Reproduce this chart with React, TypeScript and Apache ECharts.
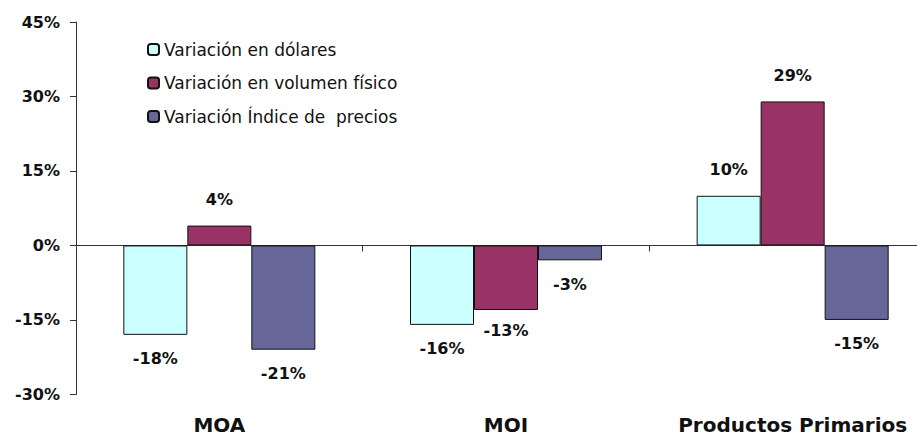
import React, { useEffect, useRef } from "react";
import * as echarts from "echarts";

const categories = ["MOA", "MOI", "Productos Primarios"];
const seriesNames = [
  "Variación en dólares",
  "Variación en volumen físico",
  "Variación Índice de  precios",
];
const dolares = [-18, -16, 10];
const volumen = [4, -13, 29];
const precios = [-21, -3, -15];
const yMin = -30;
const yMax = 45;
const yStep = 15;

const colors = ["#CCFFFF", "#993366", "#666699"];
const FONT = "DejaVu Sans";

export default function App() {
  const ref = useRef<HTMLDivElement>(null);
  useEffect(() => {
    if (!ref.current) return;
    const chart = echarts.init(ref.current, null, { renderer: "svg" });
    const values = [dolares, volumen, precios];
    const labelCommon = {
      show: true,
      fontFamily: FONT,
      fontSize: 16,
      fontWeight: "bold" as const,
      color: "#111",
      formatter: "{c}%",
    };
    chart.setOption({
      animation: false,
      backgroundColor: "#fff",
      grid: { left: 76, top: 22, right: 0, bottom: 41.6, containLabel: false },
      legend: {
        orient: "vertical",
        left: 147,
        top: 41,
        padding: 0,
        itemWidth: 11,
        itemHeight: 11,
        itemGap: 16.5,
        selectedMode: false,
        textStyle: { fontFamily: FONT, fontSize: 17, color: "#111", lineHeight: 17 },
        data: seriesNames,
      },
      xAxis: [
        {
          type: "category",
          data: categories,
          axisLine: { onZero: true, lineStyle: { color: "#333", width: 1 } },
          axisTick: { show: true, length: 6, lineStyle: { color: "#333" } },
          axisLabel: { show: false },
          splitLine: { show: false },
        },
        {
          type: "category",
          data: categories,
          position: "bottom",
          axisLine: { show: false, onZero: false },
          axisTick: { show: false },
          axisLabel: {
            show: true,
            interval: 0,
            margin: 21,
            lineHeight: 20,
            fontFamily: FONT,
            fontSize: 20,
            fontWeight: "bold",
            color: "#111",
          },
          splitLine: { show: false },
        },
      ],
      yAxis: {
        type: "value",
        min: yMin,
        max: yMax,
        interval: yStep,
        axisLine: { show: true, lineStyle: { color: "#333", width: 1 } },
        axisTick: { show: true, length: 6, lineStyle: { color: "#333" } },
        splitLine: { show: false },
        axisLabel: {
          margin: 16,
          fontFamily: FONT,
          fontSize: 16,
          fontWeight: "bold",
          color: "#111",
          formatter: "{value}%",
        },
      },
      series: seriesNames.map((name, i) => ({
        name,
        type: "bar",
        xAxisIndex: 0,
        barWidth: 64,
        barGap: "0%",
        itemStyle: { color: colors[i], borderColor: "#111", borderWidth: 1 },
        data: values[i].map((v) => ({
          value: v,
          label:
            v >= 0
              ? { ...labelCommon, position: "top", distance: 18 }
              : i === 1
              ? {
                  ...labelCommon,
                  position: "bottom",
                  distance: 4,
                  backgroundColor: "#fff",
                  padding: [9, 3, 3, 3],
                }
              : { ...labelCommon, position: "bottom", distance: 16 },
        })),
      })),
    });
    return () => chart.dispose();
  }, []);
  return (
    <div
      ref={ref}
      style={{ position: "fixed", left: 0, top: 0, width: 936, height: 436 }}
    />
  );
}
